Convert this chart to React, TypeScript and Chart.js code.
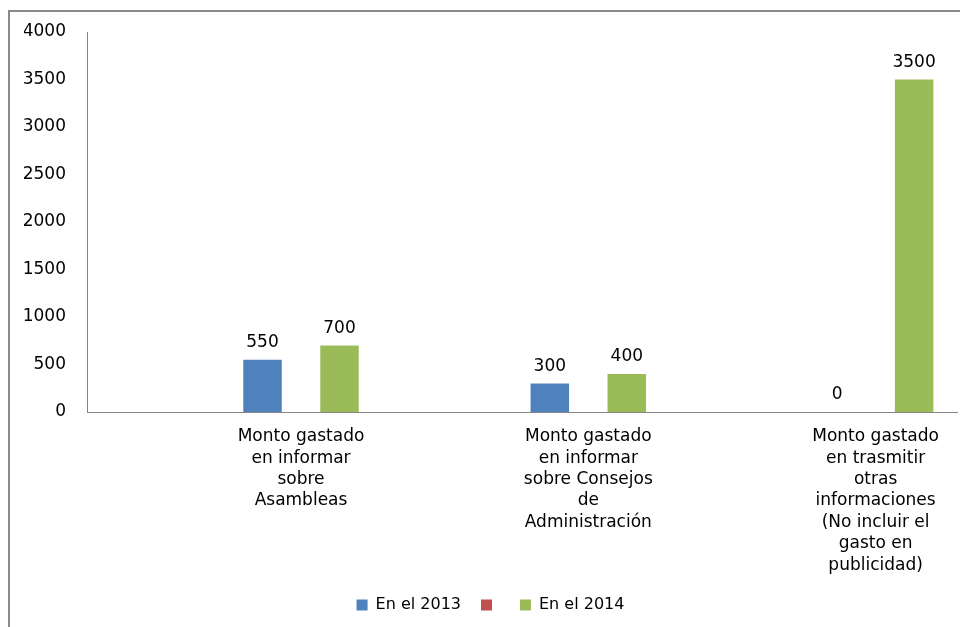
import React, { useEffect, useRef } from "react";
import { Chart, registerables } from "chart.js";

Chart.register(...registerables);

const categories: string[][] = [
  ["Monto gastado", "en informar", "sobre", "Asambleas"],
  ["Monto gastado", "en informar", "sobre Consejos", "de", "Administración"],
  ["Monto gastado", "en trasmitir", "otras", "informaciones", "(No incluir el", "gasto en", "publicidad)"],
];
const seriesNames = ["En el 2013", "", "En el 2014"];
const values2013: (number | null)[] = [550, 300, 0];
const valuesRed: (number | null)[] = [null, null, null];
const values2014: (number | null)[] = [700, 400, 3500];
const yTicks = { min: 0, max: 4000, step: 500 };

const FONT = "DejaVu Sans";
const FS = 17;
const TEXT = "#000000";
const AXIS = "#868686";

const valueLabels = {
  id: "valueLabels",
  afterDatasetsDraw(chart: any) {
    const ctx = chart.ctx;
    ctx.save();
    ctx.font = `${FS}px "${FONT}"`;
    ctx.fillStyle = TEXT;
    ctx.textAlign = "center";
    ctx.textBaseline = "middle";
    chart.data.datasets.forEach((ds: any, di: number) => {
      const meta = chart.getDatasetMeta(di);
      meta.data.forEach((el: any, i: number) => {
        const v = ds.data[i]?.y;
        if (v === null || v === undefined) return;
        ctx.fillText(String(v), el.x, el.y - 17);
      });
    });
    ctx.restore();
  },
};

export default function App() {
  const ref = useRef<HTMLCanvasElement | null>(null);
  useEffect(() => {
    if (!ref.current) return;
    const toPts = (arr: (number | null)[]) => arr.map((y, i) => ({ x: i, y }));
    const chart = new Chart(ref.current, {
      type: "bar",
      data: {
        datasets: [
          { label: seriesNames[0], data: toPts(values2013), backgroundColor: "#4F81BD" },
          { label: seriesNames[1], data: toPts(valuesRed), backgroundColor: "#C0504D" },
          { label: seriesNames[2], data: toPts(values2014), backgroundColor: "#9BBB59" },
        ],
      },
      options: {
        responsive: false,
        animation: false,
        categoryPercentage: 0.402,
        barPercentage: 1,
        layout: { padding: { left: 24, right: 3, top: 32, bottom: 4 } },
        plugins: {
          tooltip: { enabled: false },
          legend: {
            position: "bottom",
            labels: {
              boxWidth: 11,
              boxHeight: 11,
              padding: 20,
              color: TEXT,
              font: { family: FONT, size: 16 },
            },
          },
        },
        scales: {
          x: {
            type: "linear",
            min: -0.7449,
            max: 2.2833,
            offset: false,
            grid: { display: false, drawTicks: false },
            border: { display: true, color: AXIS, width: 1 },
            afterBuildTicks: (s: any) => {
              s.ticks = categories.map((_, i) => ({ value: i }));
            },
            afterFit: (s: any) => {
              s.height = 165;
            },
            ticks: {
              autoSkip: false,
              maxRotation: 0,
              padding: 14,
              color: TEXT,
              font: { family: FONT, size: FS, lineHeight: 21.4 / FS },
              callback: (v: any) => categories[v as number] ?? "",
            },
          },
          y: {
            min: yTicks.min,
            max: yTicks.max,
            grid: { display: false, drawTicks: false },
            border: { display: true, color: AXIS, width: 1 },
            afterFit: (s: any) => {
              s.width = 63;
            },
            ticks: {
              stepSize: yTicks.step,
              padding: 21,
              color: TEXT,
              font: { family: FONT, size: FS },
              callback: (v: any) => String(v),
            },
          },
        },
      } as any,
      plugins: [valueLabels],
    });
    return () => chart.destroy();
  }, []);

  return (
    <div style={{ position: "fixed", left: 0, top: 0, width: 960, height: 627, overflow: "hidden", background: "#fff" }}>
      <div
        style={{
          position: "absolute",
          left: 8,
          top: 10,
          width: 1000,
          height: 700,
          borderLeft: "2px solid #8a8a8a",
          borderTop: "2px solid #8a8a8a",
        }}
      />
      <canvas ref={ref} width={960} height={627} style={{ position: "absolute", left: 0, top: 0, width: 960, height: 627 }} />
    </div>
  );
}
